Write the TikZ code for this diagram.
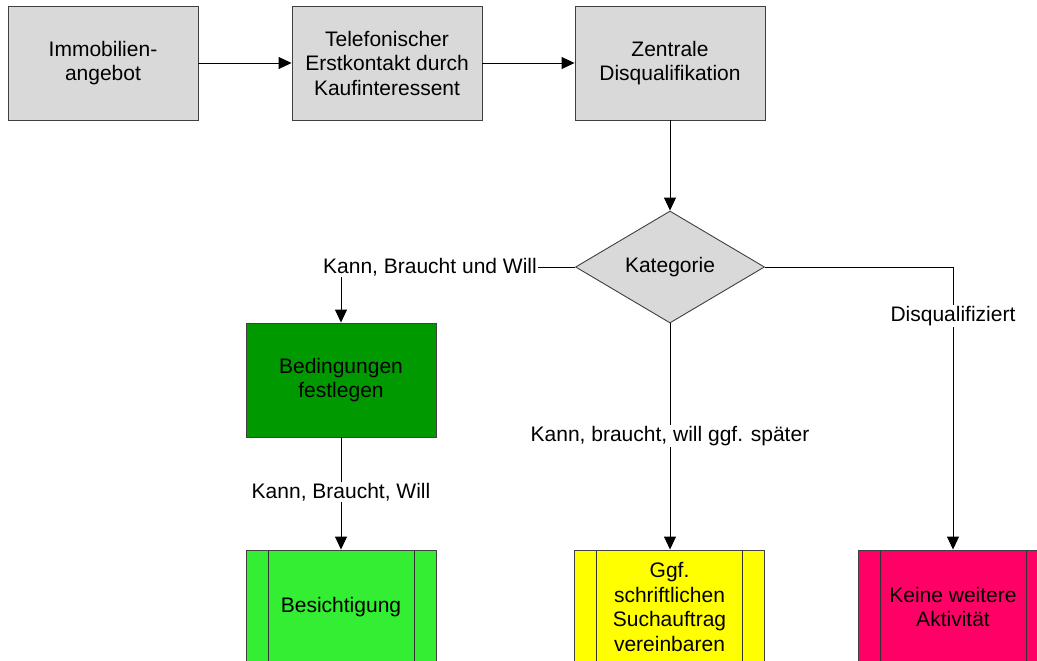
\documentclass[tikz,border=0pt]{standalone}
\usepackage{fontspec}
\setmainfont{Liberation Sans}
\usetikzlibrary{arrows.meta,shapes.geometric}
\definecolor{boxgray}{HTML}{D9D9D9}
\definecolor{dgreen}{HTML}{009900}
\definecolor{lgreen}{HTML}{33EE33}
\definecolor{yel}{HTML}{FFFF00}
\definecolor{pinkred}{HTML}{FF0066}
\tikzset{
  every node/.style={font=\fontsize{21}{24.5}\selectfont, align=center},
  proc/.style={draw=black!75, line width=0.9pt, minimum width=190pt, minimum height=114pt, inner sep=0pt},
  pred/.style={proc, path picture={
      \draw[black!80, line width=0.9pt] ([xshift=22pt]path picture bounding box.north west) -- ([xshift=22pt]path picture bounding box.south west);
      \draw[black!80, line width=0.9pt] ([xshift=-22pt]path picture bounding box.north east) -- ([xshift=-22pt]path picture bounding box.south east);}},
  dec/.style={draw=black!75, line width=0.9pt, fill=boxgray, diamond, minimum width=189pt, minimum height=112pt, inner sep=0pt, aspect=1.7},
  conn/.style={line width=0.9pt, -{Triangle[length=13pt,width=12pt]}},
  lbl/.style={fill=white, inner sep=1.5pt}
}
\begin{document}
\begin{tikzpicture}[x=1pt,y=-1pt]
\useasboundingbox (0,0) rectangle (1037,661);
\clip (0,0) rectangle (1037,661);
\fill[white] (0,0) rectangle (1037,661);
% top row
\node[proc, fill=boxgray] (a) at (103,63) {Immobilien-\\angebot};
\node[proc, fill=boxgray] (b) at (387,63) {Telefonischer\\Erstkontakt durch\\Kaufinteressent};
\node[proc, fill=boxgray] (c) at (670,63) {Zentrale\\Disqualifikation};
\node[dec] (k) at (670,267) {Kategorie};
\node[proc, fill=dgreen] (g) at (341,380) {Bedingungen\\festlegen};
\node[pred, fill=lgreen] (bes) at (341,607) {Besichtigung};
\node[pred, fill=yel] (y) at (669.5,607) {Ggf.\\schriftlichen\\Suchauftrag\\vereinbaren};
\node[pred, fill=pinkred] (r) at (953,607) {Keine weitere\\Aktivität};
% connectors
\draw[conn] (a.east) -- (b.west);
\draw[conn] (b.east) -- (c.west);
\draw[conn] (c.south) -- (k.north);
\draw[conn] (k.west) -| (g.north);
\node[lbl] (l1) at (430,267) {Kann, Braucht und Will};
\draw[conn] (k.east) -| (r.north);
\node[lbl] (l2) at (953,316) {Disqualifiziert};
\draw[conn] (k.south) -- (k.south |- y.north);
\node[lbl] (l3) at (670,436) {Kann, braucht, will ggf. später};
\draw[conn] (g.south) -- (bes.north);
\node[lbl] (l4) at (341,492) {Kann, Braucht, Will};
\end{tikzpicture}
\end{document}
